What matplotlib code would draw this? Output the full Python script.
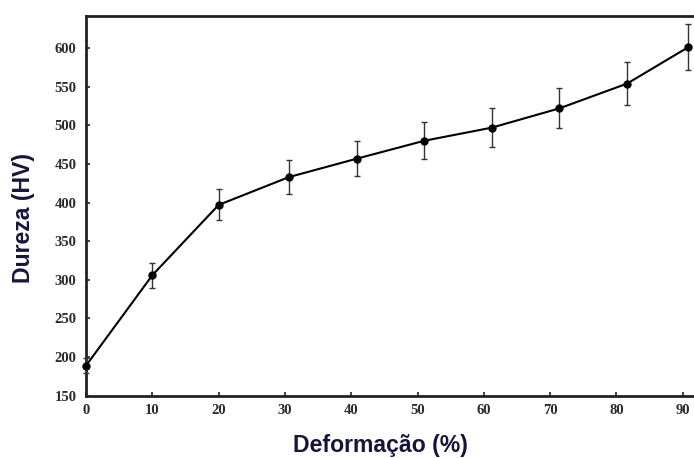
import matplotlib.pyplot as plt

# Dureza Vickers em função da deformação
deformacao = [0, 10, 20, 30.6, 40.9, 51, 61.2, 71.4, 81.6, 90.8]
dureza = [189, 306, 397, 433, 457, 480, 497, 522, 554, 601]
erro = [10, 16, 20, 22, 23, 24, 25, 26, 28, 30]

xticks = [0, 10, 20, 30, 40, 50, 60, 70, 80, 90]
yticks = [150, 200, 250, 300, 350, 400, 450, 500, 550, 600]

fig = plt.figure(figsize=(6.94, 4.58), dpi=100)
ax = fig.add_axes([0.124, 0.136, 0.876, 0.829])

ax.errorbar(deformacao, dureza, yerr=erro, color="black", lw=1.5,
            marker="o", ms=5, elinewidth=1, capsize=2.5, capthick=1,
            ecolor="#333333", clip_on=False, zorder=3)

ax.set_xlim(0, 91.7)
ax.set_ylim(150, 641.5)
ax.set_xticks(xticks)
ax.set_yticks(yticks)

for s in ["left", "top", "bottom"]:
    ax.spines[s].set_linewidth(2)
    ax.spines[s].set_color("#222222")
ax.spines["right"].set_visible(False)

ax.tick_params(direction="in", length=3, width=1.2, color="#222222")
ax.tick_params(axis="y", pad=7)
ax.tick_params(axis="x", pad=6)
for lab in ax.get_xticklabels() + ax.get_yticklabels():
    lab.set_fontfamily("Liberation Serif")
    lab.set_fontweight("bold")
    lab.set_fontsize(10.5)
    lab.set_color("#2a2a2a")

ax.set_xlabel("Deformação (%)", fontsize=16.6, fontweight="bold",
              family="Liberation Sans", color="#16163a")
ax.set_ylabel("Dureza (HV)", fontsize=16.6, fontweight="bold",
              family="Liberation Sans", color="#16163a")
ax.xaxis.set_label_coords(0.485, -0.1)
ax.yaxis.set_label_coords(-0.084, 0.467)

fig.savefig("out.png", dpi=100)
